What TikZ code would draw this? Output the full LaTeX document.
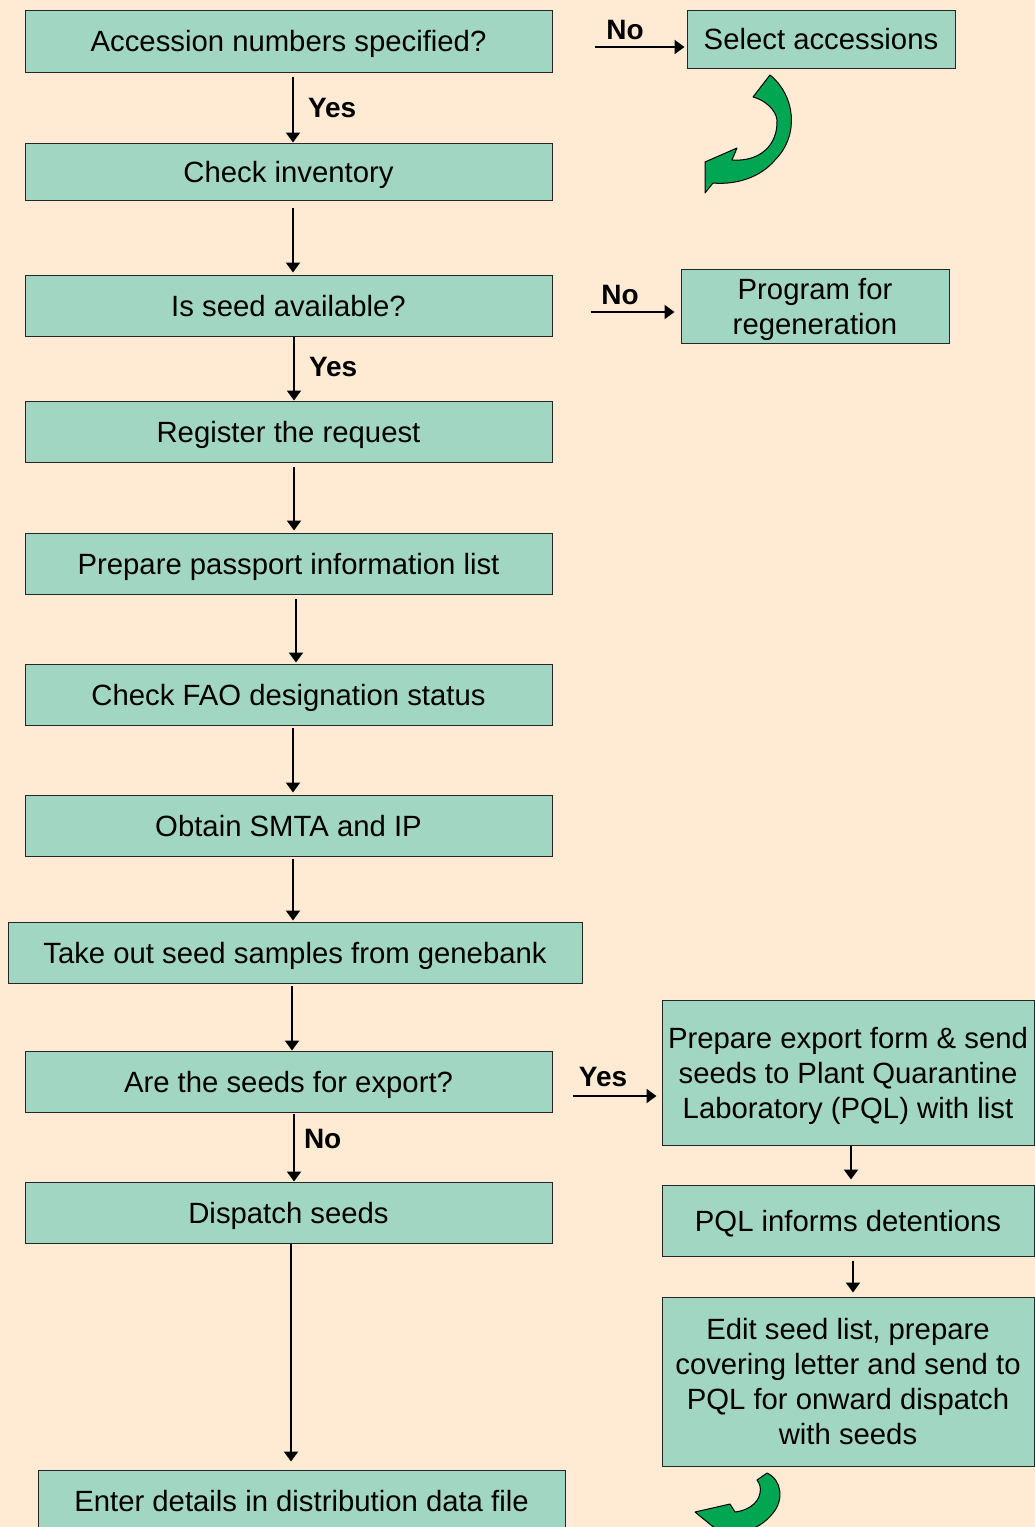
\documentclass[tikz,border=0pt]{standalone}
\usepackage{fontspec}
\setmainfont{Liberation Sans}
\usetikzlibrary{arrows.meta}
\definecolor{bgpeach}{RGB}{255,234,212}
\definecolor{boxgreen}{RGB}{161,215,194}
\definecolor{curlgreen}{RGB}{0,166,81}

\begin{document}
\begin{tikzpicture}[x=1pt,y=-1pt,
    stepbox/.style={draw=black!85,line width=1pt,fill=boxgreen,minimum width=527pt,minimum height=61pt,inner sep=0pt,text depth=0pt,align=center,font=\fontsize{29.3}{35}\selectfont},
    flow/.style={line width=2pt,-{Triangle[length=10pt,width=14pt]}},
    lbl/.style={inner sep=0pt,font=\bfseries\fontsize{28}{34}\selectfont},
    curl/.style={fill=curlgreen,draw=black,line width=1pt,line join=round}]
    \useasboundingbox[fill=bgpeach] (0,0) rectangle (1035,1527);

    % main column
    \node[stepbox,minimum height=62pt] (spec) at (288.5,41) {Accession numbers specified?};
    \node[stepbox,minimum height=57pt] (inv) at (288.5,171.5) {Check inventory};
    \node[stepbox] (avail) at (288.5,305.5) {Is seed available?};
    \node[stepbox] (reg) at (288.5,431.5) {Register the request};
    \node[stepbox] (pass) at (288.5,563.5) {Prepare passport information list};
    \node[stepbox] (fao) at (288.5,694.5) {Check FAO designation status};
    \node[stepbox] (smta) at (288.5,825.5) {Obtain SMTA and IP};
    \node[stepbox,minimum width=574pt] (take) at (295,952.5) {Take out seed samples from genebank};
    \node[stepbox] (export) at (288.5,1081.5) {Are the seeds for export?};
    \node[stepbox] (disp) at (288.5,1212.5) {Dispatch seeds};
    \node[stepbox,minimum height=62pt] (enter) at (301.5,1501) {Enter details in distribution data file};

    % side boxes
    \node[stepbox,minimum width=268pt,minimum height=58pt] (select) at (821,39) {Select accessions};
    \node[stepbox,minimum width=268pt,minimum height=74pt] (regen) at (815,306) {Program for\\regeneration};
    \node[stepbox,minimum width=372pt,minimum height=145pt] (pqlsend) at (848,1072.5) {Prepare export form \& send\\seeds to Plant Quarantine\\Laboratory (PQL) with list};
    \node[stepbox,minimum width=372pt,minimum height=71pt] (detain) at (848,1220.5) {PQL informs detentions};
    \node[stepbox,minimum width=372pt,minimum height=169pt] (edit) at (848,1381.5) {Edit seed list, prepare\\covering letter and send to\\PQL for onward dispatch\\with seeds};

    % down arrows
    \draw[flow,shorten <=4pt] ([xshift=4.5pt]spec.south) -- ([xshift=4.5pt]inv.north) node[lbl,midway,right=14pt] {Yes};
    \draw[flow,shorten <=7pt,shorten >=2pt] ([xshift=4.5pt]inv.south) -- ([xshift=4.5pt]avail.north);
    \draw[flow] ([xshift=5.5pt]avail.south) -- ([xshift=5.5pt]reg.north) node[lbl,midway,right=14pt,yshift=2pt] {Yes};
    \draw[flow,shorten <=4pt,shorten >=2pt] ([xshift=5.5pt]reg.south) -- ([xshift=5.5pt]pass.north);
    \draw[flow,shorten <=4pt,shorten >=1pt] ([xshift=7.5pt]pass.south) -- ([xshift=7.5pt]fao.north);
    \draw[flow,shorten <=2pt,shorten >=2pt] ([xshift=4.5pt]fao.south) -- ([xshift=4.5pt]smta.north);
    \draw[flow,shorten <=2pt,shorten >=1pt] ([xshift=-2pt]smta.south -| take.north) -- ([xshift=-2pt]take.north);
    \draw[flow,shorten <=2pt] ([xshift=-3pt]take.south) -- ([xshift=3.5pt]export.north);
    \draw[flow,shorten <=1pt] ([xshift=5.5pt]export.south) -- ([xshift=5.5pt]disp.north) node[lbl,midway,right=9pt,yshift=8pt] {No};
    \draw[flow,shorten >=8pt] ([xshift=2.5pt]disp.south) -- ([xshift=-10.5pt]enter.north);
    \draw[flow,shorten >=5pt] ([xshift=3pt]pqlsend.south) -- ([xshift=3pt]detain.north);
    \draw[flow,shorten <=4pt,shorten >=4pt] ([xshift=5pt]detain.south) -- ([xshift=5pt]edit.north);

    % side arrows
    \draw[flow,shorten <=42pt,shorten >=2pt] ([yshift=-6pt]spec.east) -- ([yshift=-8pt]select.west) node[lbl,midway,above=6pt,xshift=5.5pt] {No};
    \draw[flow,shorten <=38pt,shorten >=6pt] ([yshift=-6.5pt]avail.east) -- ([yshift=-6pt]regen.west) node[lbl,midway,above=6pt,xshift=3.5pt] {No};
    \draw[flow,shorten <=20pt,shorten >=5pt] ([yshift=-14.5pt]export.east) -- ([yshift=-23.5pt]pqlsend.west) node[lbl,midway,above=8pt,xshift=-4pt] {Yes};

    % green curls
    \draw[curl] (770,75) .. controls (795,95) and (800,135) .. (775,160)
        .. controls (760,178) and (735,185) .. (713,183) -- (705,193) -- (705,162) -- (737,148) -- (732,160)
        .. controls (760,162) and (778,145) .. (777,120) .. controls (776,110) and (765,100) .. (753,97) -- cycle;
    \draw[curl] (767,1473) .. controls (782,1480) and (784,1500) .. (773,1513)
        .. controls (766,1522) and (755,1530) .. (740,1532) -- (722,1534) -- (695,1512) -- (730,1504) -- (735,1512)
        .. controls (745,1511) and (758,1505) .. (760,1493) .. controls (761,1488) and (760,1484) .. (757,1480) -- cycle;
\end{tikzpicture}
\end{document}
